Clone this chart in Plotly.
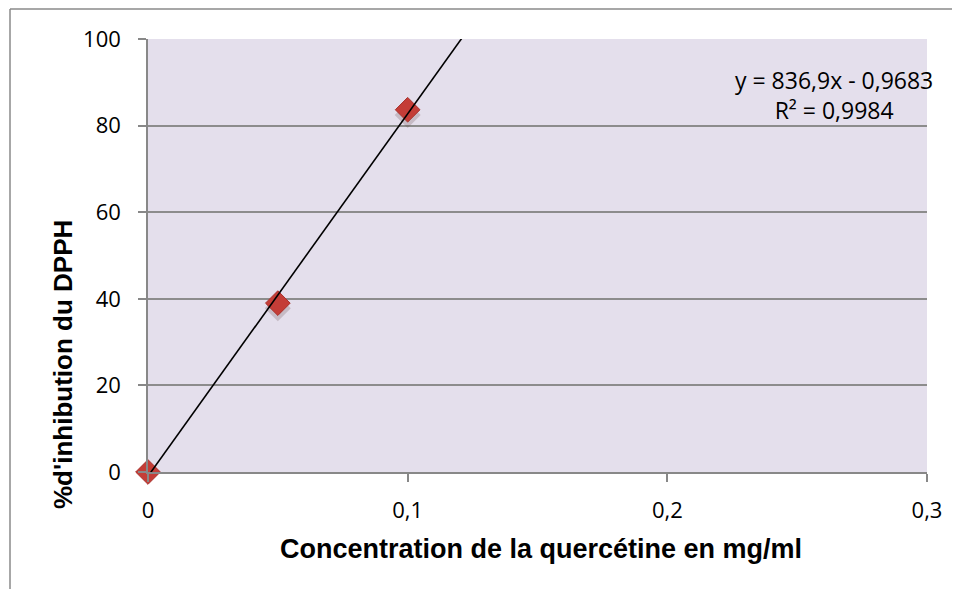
import plotly.graph_objects as go

# Data
conc = [0, 0.05, 0.1]
inhibition = [0.0, 39.0, 83.66]
slope = 836.9
intercept = -0.9683
r2 = 0.9984
x_ticks = [0, 0.1, 0.2, 0.3]
x_tick_labels = ["0", "0,1", "0,2", "0,3"]
y_ticks = [0, 20, 40, 60, 80, 100]

OFF = 8  # default page body margin
W, H = 960 - OFF, 589 - OFF
L, R, T, B = 148 - OFF, 927 - OFF, 39 - OFF, 472 - OFF

fig = go.Figure()

trend_x = [0, 0.3]
trend_y = [slope * x + intercept for x in trend_x]
# shadow
fig.add_trace(go.Scatter(x=conc, y=[v - 1.2 for v in inhibition], mode="markers",
                         marker=dict(symbol="diamond", size=20, color="rgba(90,60,60,0.22)",
                                     line=dict(width=0)),
                         hoverinfo="skip", showlegend=False, cliponaxis=False))
fig.add_trace(go.Scatter(x=conc, y=inhibition, mode="markers",
                         marker=dict(symbol="diamond", size=19, color="#c43d37",
                                     line=dict(color="#a8302b", width=1)),
                         showlegend=False, cliponaxis=False))
fig.add_trace(go.Scatter(x=trend_x, y=trend_y, mode="lines",
                         line=dict(color="black", width=1.6),
                         hoverinfo="skip", showlegend=False))

pw = R - L
ph = B - T

def px_x(p):
    return (p - OFF - L) / pw

def px_y(p):
    return (B - (p - OFF)) / ph

fig.update_layout(
    width=W, height=H,
    margin=dict(l=L, r=W - R, t=T, b=H - B),
    paper_bgcolor="white",
    plot_bgcolor="#e4dfec",
    font=dict(family="Open Sans", size=22, color="black"),
    xaxis=dict(range=[0, 0.3], tickvals=x_ticks, ticktext=x_tick_labels,
               showgrid=False, zeroline=False, showline=True, linecolor="#888888",
               linewidth=1.5, ticks="outside", ticklen=8, tickcolor="#888888",
               tickwidth=1.5, ticklabelstandoff=10,
               tickfont=dict(family="Open Sans", size=22)),
    yaxis=dict(range=[0, 100], tickvals=y_ticks, showgrid=True, gridcolor="#8c8c8c",
               gridwidth=1.5, zeroline=False, showline=True, linecolor="#888888",
               linewidth=1.5, ticks="outside", ticklen=8, tickcolor="#888888",
               tickwidth=1.5, ticklabelstandoff=13,
               tickfont=dict(family="Open Sans", size=22)),
    shapes=[
        dict(type="line", xref="paper", yref="paper", x0=px_x(10), x1=px_x(960),
             y0=px_y(9), y1=px_y(9), line=dict(color="#8a8a8a", width=1.5)),
        dict(type="line", xref="paper", yref="paper", x0=px_x(10), x1=px_x(10),
             y0=px_y(9), y1=px_y(589), line=dict(color="#8a8a8a", width=1.5)),
    ],
    annotations=[
        dict(text=f"y = {str(slope).replace('.', ',')}x - {str(abs(intercept)).replace('.', ',')}<br>R² = {str(r2).replace('.', ',')}",
             xref="paper", yref="paper", x=px_x(834), y=px_y(95), showarrow=False,
             align="center", xanchor="center", yanchor="middle",
             font=dict(family="Open Sans", size=23)),
        dict(text="<b>Concentration de la quercétine en mg/ml</b>",
             xref="paper", yref="paper", x=px_x(541), y=px_y(549), showarrow=False,
             xanchor="center", yanchor="middle",
             font=dict(family="Liberation Sans", size=27)),
        dict(text="<b>%d'inhibution du DPPH</b>", textangle=-90,
             xref="paper", yref="paper", x=px_x(63), y=px_y(365), showarrow=False,
             xanchor="center", yanchor="middle",
             font=dict(family="Liberation Sans", size=26)),
    ],
)

fig.write_html("out.html")
